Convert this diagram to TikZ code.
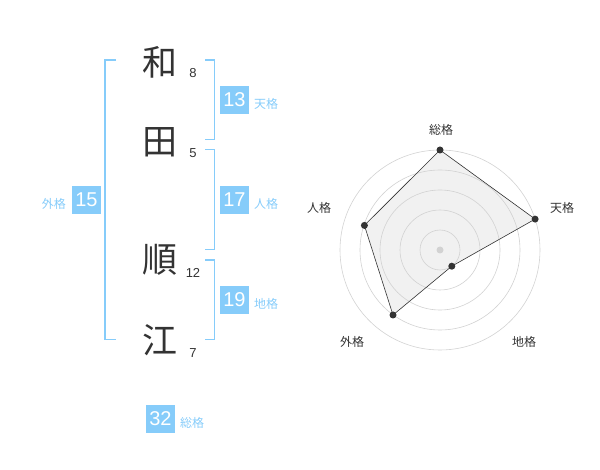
\documentclass[tikz,border=0pt]{standalone}
\usepackage{fontspec}
\setmainfont{Liberation Sans}
\newfontfamily\jpfont{Noto Sans CJK JP}
\definecolor{lblue}{RGB}{134,204,250}
\definecolor{ink}{RGB}{51,51,51}
\definecolor{ringc}{RGB}{210,210,210}
\definecolor{fillc}{RGB}{241,241,241}
\begin{document}
\begin{tikzpicture}[x=1pt,y=-1pt,
  kanji/.style={font=\jpfont\fontsize{35}{35}\selectfont,text=ink,inner sep=0pt},
  strokes/.style={font=\fontsize{13}{13}\selectfont,text=ink,inner sep=0pt},
  numbox/.style={fill=lblue,text=white,minimum width=29pt,minimum height=28pt,inner sep=0pt,font=\fontsize{20}{20}\selectfont},
  kaku/.style={font=\jpfont\fontsize{12}{12}\selectfont,text=lblue,inner sep=0pt},
  brk/.style={draw=lblue,line width=1.5pt},
  radlbl/.style={font=\jpfont\fontsize{12}{12}\selectfont,text=ink,inner sep=0pt},
  ring/.style={draw=ringc,line width=0.6pt},
  vdot/.style={circle,fill=ink,inner sep=0pt,minimum size=7pt}]
\useasboundingbox (0,0) rectangle (600,470);
% characters
\node[kanji] (c1) at (160,62) {和};
\node[kanji] (c2) at (160,142) {田};
\node[kanji] (c3) at (160,260) {順};
\node[kanji] (c4) at (160,340) {江};
\node[strokes] (s1) at (193,73) {8};
\node[strokes] (s2) at (193,153) {5};
\node[strokes] (s3) at (193,273) {12};
\node[strokes] (s4) at (193,353) {7};
% brackets
\draw[brk] (116,60) -- (105,60) -- (105,339.5) -- (116,339.5);
\draw[brk] (205,60) -- (214.5,60) -- (214.5,139.5) -- (205,139.5);
\draw[brk] (205,149.5) -- (214.5,149.5) -- (214.5,249.5) -- (205,249.5);
\draw[brk] (205,260) -- (214.5,260) -- (214.5,339.5) -- (205,339.5);
% boxes
\node[numbox] (b13) at (234.5,100) {13};
\node[kaku,anchor=west] (k13) at (254,104) {天格};
\node[numbox] (b17) at (234.5,200) {17};
\node[kaku,anchor=west] (k17) at (254,204) {人格};
\node[numbox] (b19) at (234.5,300) {19};
\node[kaku,anchor=west] (k19) at (254,304) {地格};
\node[numbox] (b15) at (86.5,200) {15};
\node[kaku,anchor=east] (k15) at (66,204) {外格};
\node[numbox] (b32) at (160.5,419) {32};
\node[kaku,anchor=west] (k32) at (180,423) {総格};
% radar
\coordinate (O) at (440,250);
\path (440,150) coordinate (pa)
      (535.1,219.1) coordinate (pb)
      (451.8,266.2) coordinate (pc)
      (393,315) coordinate (pd)
      (364.4,225.4) coordinate (pe);
\fill[fillc] (pa) -- (pb) -- (pc) -- (pd) -- (pe) -- cycle;
\foreach \r in {20,40,60,80,100} \draw[ring] (O) circle[radius=\r];
\draw[ink,line width=0.6pt] (pa) -- (pb) -- (pc) -- (pd) -- (pe) -- cycle;
\node[circle,fill=ringc,inner sep=0pt,minimum size=7pt] (ctr) at (O) {};
\node[vdot] (va) at (pa) {};
\node[vdot] (vb) at (pb) {};
\node[vdot] (vc) at (pc) {};
\node[vdot] (vd) at (pd) {};
\node[vdot] (ve) at (pe) {};
\node[radlbl] (la) at (441,130) {総格};
\node[radlbl] (lb) at (562,208) {天格};
\node[radlbl] (lc) at (524,342) {地格};
\node[radlbl] (ld) at (352,342) {外格};
\node[radlbl] (le) at (319,208) {人格};
\end{tikzpicture}
\end{document}
